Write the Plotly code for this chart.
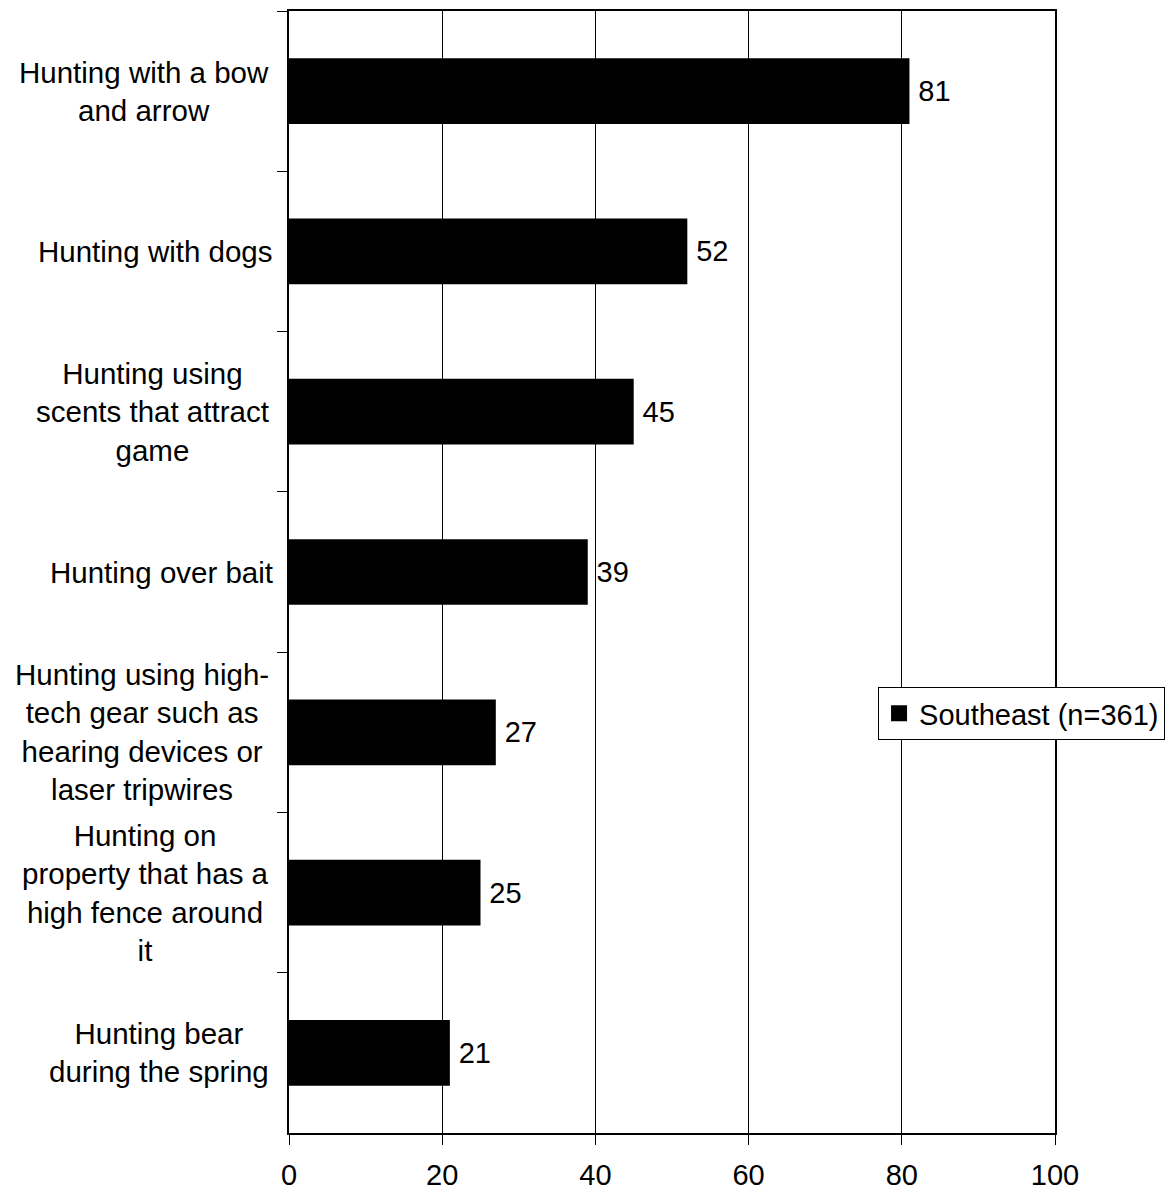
import plotly.graph_objects as go

categories = [
    "Hunting with a bow<br>and arrow",
    "Hunting with dogs",
    "Hunting using<br>scents that attract<br>game",
    "Hunting over bait",
    "Hunting using high-<br>tech gear such as<br>hearing devices or<br>laser tripwires",
    "Hunting on<br>property that has a<br>high fence around<br>it",
    "Hunting bear<br>during the spring",
]
values = [81, 52, 45, 39, 27, 25, 21]
series_name = "Southeast (n=361)"
x_ticks = [0, 20, 40, 60, 80, 100]

FONT = "Liberation Sans, Arial, sans-serif"
FS = 29

fig = go.Figure()
fig.add_trace(go.Bar(
    y=categories, x=values, orientation="h", name=series_name,
    marker=dict(color="black", line=dict(width=0)),
    text=values, texttemplate="\u2009%{text}", textposition="outside",
    cliponaxis=False, showlegend=False,
    textfont=dict(size=FS, color="black", family=FONT),
))
# legend entry for the series (bigger square than the default bar swatch)
fig.add_trace(go.Scatter(
    x=[None], y=[None], mode="markers", name=series_name,
    marker=dict(symbol="square", size=20, color="black"),
))

# category labels as centred multi-line annotations
for c in categories:
    shift = -18 if "<br>" in c else -14
    fig.add_annotation(x=0, xref="paper", y=c, yref="y", text=c,
                       xanchor="right", xshift=shift, align="center",
                       showarrow=False,
                       font=dict(size=29.5, color="black", family=FONT))

fig.update_layout(
    width=1165, height=1183,
    margin=dict(l=281, r=118, t=3, b=58, autoexpand=False),
    plot_bgcolor="white", paper_bgcolor="white",
    bargap=0.59,
    font=dict(family=FONT, size=FS, color="black"),
    showlegend=True,
    legend=dict(x=0.769, y=0.374, xanchor="left", yanchor="middle",
                bordercolor="black", borderwidth=1, bgcolor="white",
                font=dict(size=FS, family=FONT),
                itemsizing="trace", itemwidth=30),
)
fig.update_xaxes(range=[0, 100], tickvals=x_ticks, showgrid=True,
                 gridcolor="black", gridwidth=1, zeroline=False,
                 showline=True, linecolor="black", linewidth=2, mirror=True,
                 ticks="outside", ticklen=10, tickcolor="black",
                 ticklabelstandoff=5, automargin=False,
                 tickfont=dict(size=FS, family=FONT))
fig.update_yaxes(autorange="reversed", showticklabels=False,
                 tickson="boundaries", ticks="outside", ticklen=10,
                 tickcolor="black", showgrid=False, automargin=False,
                 showline=True, linecolor="black", linewidth=2, mirror=True)

fig.write_html("out.html")
